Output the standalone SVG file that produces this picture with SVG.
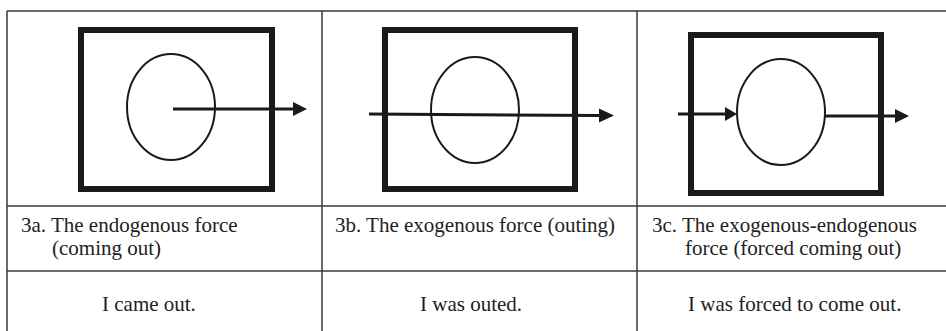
<svg xmlns="http://www.w3.org/2000/svg" width="946" height="331" viewBox="0 0 946 331">
<style>
.grid{stroke:#3a3a3a;stroke-width:1.5;fill:none}
.box{fill:none;stroke:#1a1a1a;stroke-width:6}
.cell{fill:none;stroke:#1a1a1a;stroke-width:2}
.arr{stroke:#1a1a1a;stroke-width:3;fill:none}
.head{fill:#1a1a1a}
text{font-family:"Liberation Serif","Times New Roman",serif;font-size:21px;fill:#222}
</style>
<rect width="946" height="331" fill="#fff"/>
<g id="table">
<path class="grid" d="M7,11H946M7,206H946M7,271H946M7,11V331M322,11V331M637,11V331"/>
</g>
<g id="node-3a">
<rect class="box" x="81" y="30" width="191" height="159"/>
<ellipse class="cell" cx="171" cy="107" rx="44" ry="53"/>
</g>
<g id="node-3b">
<rect class="box" x="385" y="30" width="190" height="159"/>
<ellipse class="cell" cx="475" cy="110" rx="44" ry="53"/>
</g>
<g id="node-3c">
<rect class="box" x="691" y="35" width="190" height="158"/>
<ellipse class="cell" cx="781" cy="112" rx="44" ry="53"/>
</g>
<g id="connectors">
<line class="arr" x1="173" y1="109" x2="294" y2="109"/>
<polygon class="head" points="293,102 307,109 293,116"/>
<line class="arr" x1="369" y1="114" x2="600" y2="115.5"/>
<polygon class="head" points="599,108.5 614,115.5 599,122.5"/>
<line class="arr" x1="678" y1="114" x2="726" y2="114"/>
<polygon class="head" points="725,107 737,114 725,121"/>
<line class="arr" x1="825" y1="116" x2="896" y2="116"/>
<polygon class="head" points="895,109 909,116 895,123"/>
</g>
<g id="labels">
<text x="21" y="231.5">3a. The endogenous force</text>
<text x="52" y="255">(coming out)</text>
<text x="335" y="232">3b. The exogenous force (outing)</text>
<text x="652" y="231.5">3c. The exogenous-endogenous</text>
<text x="685" y="255">force (forced coming out)</text>
<text x="102" y="311">I came out.</text>
<text x="420" y="311">I was outed.</text>
<text x="688" y="311">I was forced to come out.</text>
</g>
</svg>
